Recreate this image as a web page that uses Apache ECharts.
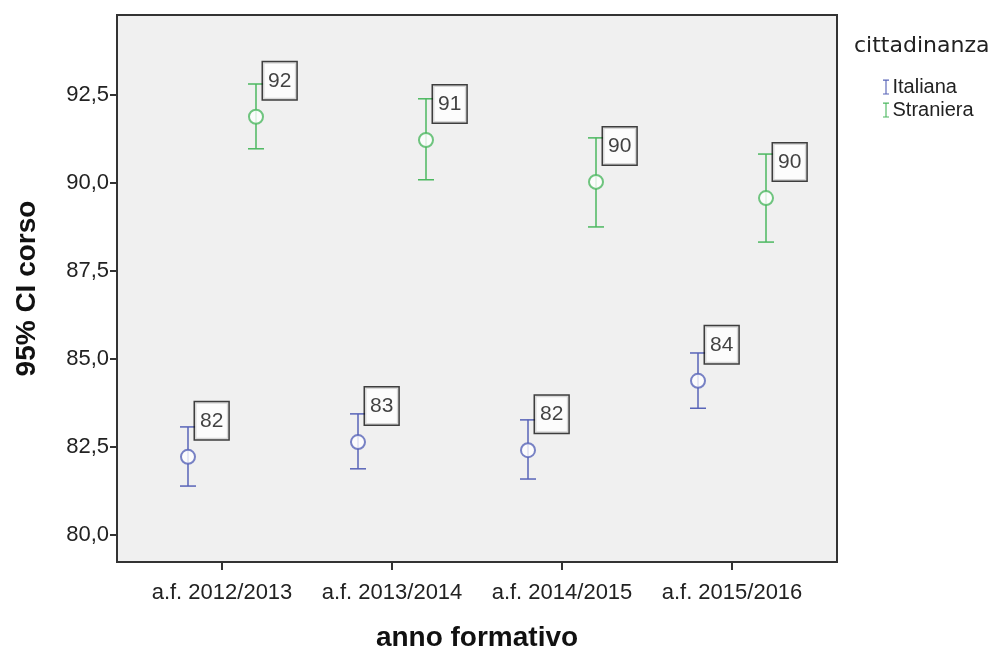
<!DOCTYPE html>
<html>
<head>
<meta charset="utf-8">
<script src="https://cdn.jsdelivr.net/npm/echarts@6/dist/echarts.min.js"></script>
<style>html,body{margin:0;padding:0;background:#fff}#c{width:998px;height:652px}</style>
</head>
<body>
<div id="c"></div>
<script>
var categories = ['a.f. 2012/2013', 'a.f. 2013/2014', 'a.f. 2014/2015', 'a.f. 2015/2016'];
var yTicks = [80.0, 82.5, 85.0, 87.5, 90.0, 92.5];
var seriesNames = ['Italiana', 'Straniera'];
// means and 95% CI bounds
var italianaMean = [82.22, 82.64, 82.41, 84.38];
var italianaLow  = [81.39, 81.88, 81.59, 83.60];
var italianaHigh = [83.07, 83.44, 83.27, 85.17];
var stranieraMean = [91.88, 91.22, 90.03, 89.57];
var stranieraLow  = [90.97, 90.09, 88.75, 88.32];
var stranieraHigh = [92.81, 92.39, 91.28, 90.82];

var colors = ['#5864b8', '#4cb860'];
var offsets = [-0.2, 0.2];
var FONT = '"Liberation Sans", Arial, sans-serif';

function errData(low, high, k) {
  return categories.map(function (c, i) { return [i + offsets[k], low[i], high[i]]; });
}
function meanData(mean, k) {
  return categories.map(function (c, i) { return [i + offsets[k], mean[i]]; });
}
function errSeries(name, low, high, k) {
  return {
    name: name, type: 'custom', z: 2,
    data: errData(low, high, k),
    encode: { x: 0, y: [1, 2] },
    renderItem: function (params, api) {
      var x = api.value(0);
      var lo = api.coord([x, api.value(1)]);
      var hi = api.coord([x, api.value(2)]);
      var hw = 8;
      var st = { stroke: colors[k], lineWidth: 1.5 };
      return { type: 'group', children: [
        { type: 'line', shape: { x1: lo[0], y1: lo[1], x2: hi[0], y2: hi[1] }, style: st },
        { type: 'line', shape: { x1: hi[0] - hw, y1: hi[1], x2: hi[0] + hw, y2: hi[1] }, style: st },
        { type: 'line', shape: { x1: lo[0] - hw, y1: lo[1], x2: lo[0] + hw, y2: lo[1] }, style: st }
      ]};
    }
  };
}
function meanSeries(name, mean, k) {
  return {
    name: name, type: 'scatter', z: 5,
    symbol: 'emptyCircle', symbolSize: 14,
    itemStyle: { color: colors[k], borderWidth: 1.5 },
    data: meanData(mean, k),
    label: {
      show: true, position: 'right', distance: -1, offset: [0, -36],
      formatter: function (p) { return Math.round(p.value[1]); },
      fontFamily: FONT, fontSize: 21, lineHeight: 21, color: '#111',
      backgroundColor: '#fff', borderColor: '#111', borderWidth: 1.5,
      padding: [8, 5, 8, 5]
    }
  };
}

var iconPath = 'path://M0,0H8V1.5H4.75V18.5H8V20H0V18.5H3.25V1.5H0Z';

var option = {
  animation: false,
  backgroundColor: '#ffffff',
  title: {
    text: 'cittadinanza', left: 849, top: 30,
    textStyle: { fontFamily: '"DejaVu Sans", sans-serif', fontSize: 22, fontWeight: 'normal', color: '#222' }
  },
  legend: {
    orient: 'vertical', left: 878, top: 72, itemGap: 3,
    itemWidth: 7, itemHeight: 15,
    data: [
      { name: seriesNames[0], icon: iconPath, itemStyle: { color: colors[0] } },
      { name: seriesNames[1], icon: iconPath, itemStyle: { color: colors[1] } }
    ],
    textStyle: { fontFamily: FONT, fontSize: 20, color: '#222', padding: [0, 0, 0, -2] }
  },
  grid: {
    left: 117, top: 15, right: 161, bottom: 90,
    outerBoundsMode: 'none', containLabel: false,
    show: true, backgroundColor: '#f0f0f0', borderColor: '#333', borderWidth: 2
  },
  xAxis: {
    type: 'value', min: -0.6176, max: 3.6176,
    name: 'anno formativo', nameLocation: 'middle', nameGap: 62,
    nameTextStyle: { fontFamily: FONT, fontSize: 28, fontWeight: 'bold', color: '#111' },
    splitLine: { show: false },
    axisLine: { show: false, onZero: false },
    axisTick: { show: true, length: 8, lineStyle: { color: '#333', width: 2 }, customValues: [0, 1, 2, 3] },
    axisLabel: {
      customValues: [0, 1, 2, 3], margin: 20,
      fontFamily: FONT, fontSize: 22, color: '#222',
      formatter: function (v) { return categories[Math.round(v)]; }
    }
  },
  yAxis: {
    type: 'value', min: 79.233, max: 94.77,
    name: '95% CI corso', nameLocation: 'middle', nameGap: 76,
    nameTextStyle: { fontFamily: FONT, fontSize: 28, fontWeight: 'bold', color: '#111' },
    splitLine: { show: false },
    axisLine: { show: false, onZero: false },
    axisTick: { show: true, length: 7, lineStyle: { color: '#333', width: 2 }, customValues: yTicks },
    axisLabel: {
      customValues: yTicks, margin: 8,
      fontFamily: FONT, fontSize: 22, color: '#222',
      formatter: function (v) { return v.toFixed(1).replace('.', ','); }
    }
  },
  series: [
    errSeries(seriesNames[0], italianaLow, italianaHigh, 0),
    errSeries(seriesNames[1], stranieraLow, stranieraHigh, 1),
    meanSeries(seriesNames[0], italianaMean, 0),
    meanSeries(seriesNames[1], stranieraMean, 1)
  ]
};
var chart = echarts.init(document.getElementById('c'), null, { renderer: 'canvas' });
chart.setOption(option);
</script>
</body>
</html>
